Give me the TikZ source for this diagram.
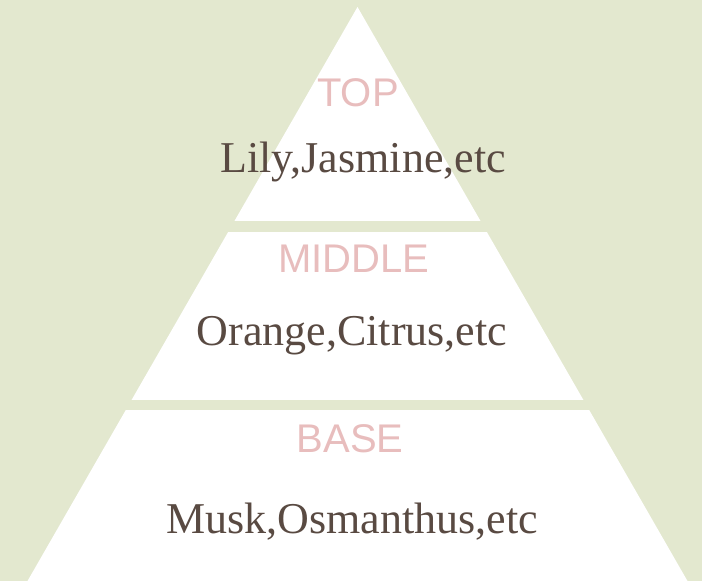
\documentclass[tikz,border=0pt]{standalone}
\usepackage{fontspec}
\setmainfont{Liberation Serif}
\setsansfont{Liberation Sans}
\definecolor{sage}{HTML}{E3E8CF}
\definecolor{rosy}{HTML}{E8BDBD}
\definecolor{umber}{HTML}{594A42}
\tikzset{
	tiername/.style={inner sep=0pt, anchor=base, text=rosy, font=\sffamily\fontsize{40}{44}\selectfont},
	tiernotes/.style={inner sep=0pt, anchor=base, text=umber, font=\fontsize{44}{48}\selectfont}
}

\begin{document}
\begin{tikzpicture}[x=1pt, y=-1pt]
		%%%%% START %%%%%
		
		\fill[sage] (0, 0) rectangle (702, 581);
		\useasboundingbox (0, 0) rectangle (702, 581);
		
		\fill[white] (357.5, 7) -- (687.5, 581) -- (27.5, 581) -- cycle;
		
		\fill[sage] (0, 221) rectangle (702, 232);
		\fill[sage] (0, 400) rectangle (702, 410);
		
		\node[tiername] (top) at (358, 106) {TOP};
		\node[tiernotes] (topnotes) at (363, 172) {Lily,Jasmine,etc};
		
		\node[tiername] (middle) at (354, 272) {MIDDLE};
		\node[tiernotes] (middlenotes) at (352, 345) {Orange,Citrus,etc};
		
		\node[tiername] (base) at (350, 452) {BASE};
		\node[tiernotes] (basenotes) at (352, 533) {Musk,Osmanthus,etc};
		
		%%%%% END %%%%%
	\end{tikzpicture}
\end{document}
